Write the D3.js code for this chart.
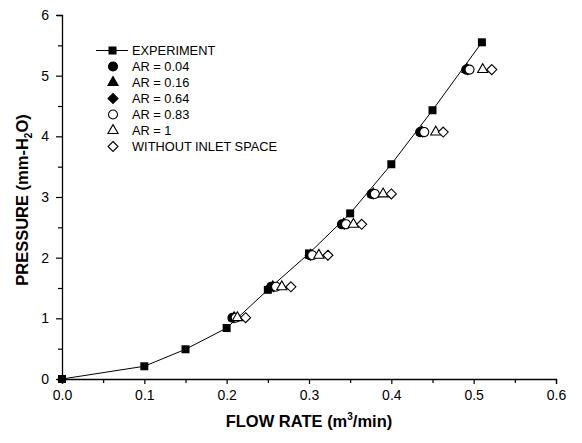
<!DOCTYPE html>
<html>
<head>
<meta charset="utf-8">
<script src="https://cdn.jsdelivr.net/npm/d3@7"></script>
<style>
body { margin: 0; background: #fff; }
text { font-family: "Liberation Sans", Arial, sans-serif; }
</style>
</head>
<body>
<script>
const width = 582;
const height = 443;

// experiment (line + squares)
const expFlow = [0, 0.1, 0.15, 0.2, 0.25, 0.3, 0.35, 0.4, 0.45, 0.51];
const expPressure = [0, 0.21, 0.49, 0.84, 1.47, 2.07, 2.73, 3.54, 4.43, 5.55];

// simulation levels (shared pressure values)
const simPressure = [1.01, 1.52, 2.04, 2.55, 3.05, 4.07, 5.10];
const flowAR004 = [0.207, 0.254, 0.301, 0.340, 0.376, 0.435, 0.491];
const flowAR016 = [0.209, 0.256, 0.302, 0.342, 0.378, 0.437, 0.492];
const flowAR064 = [0.209, 0.257, 0.302, 0.343, 0.378, 0.438, 0.493];
const flowAR083 = [0.211, 0.260, 0.304, 0.345, 0.380, 0.440, 0.495];
const flowAR1 = [0.213, 0.267, 0.312, 0.354, 0.390, 0.454, 0.511];
const flowNoInlet = [0.223, 0.278, 0.323, 0.364, 0.400, 0.463, 0.522];

const xTicks = [0, 0.1, 0.2, 0.3, 0.4, 0.5, 0.6];
const yTicks = [0, 1, 2, 3, 4, 5, 6];

// rotated square for the diamond markers
const diamond = {
    draw(ctx, size) {
        const r = Math.sqrt(size / 2);
        ctx.moveTo(0, -r);
        ctx.lineTo(r, 0);
        ctx.lineTo(0, r);
        ctx.lineTo(-r, 0);
        ctx.closePath();
    }
};

const series = [
    {name: "AR = 0.04", flow: flowAR004, type: d3.symbolCircle, fill: "#000", size: 64},
    {name: "AR = 0.16", flow: flowAR016, type: d3.symbolTriangle, fill: "#000", size: 45},
    {name: "AR = 0.64", flow: flowAR064, type: diamond, fill: "#000", size: 50},
    {name: "AR = 0.83", flow: flowAR083, type: d3.symbolCircle, fill: "#fff", size: 64},
    {name: "AR = 1", flow: flowAR1, type: d3.symbolTriangle, fill: "#fff", size: 45},
    {name: "WITHOUT INLET SPACE", flow: flowNoInlet, type: diamond, fill: "#fff", size: 50}
];

const svg = d3.select("body").append("svg")
    .attr("width", width)
    .attr("height", height);

const x = d3.scaleLinear().domain([0, 0.6]).range([62, 556]);
const y = d3.scaleLinear().domain([0, 6]).range([379, 15]);

// axes
const xAxis = d3.axisBottom(x)
    .tickValues(d3.range(0, 0.6001, 0.05))
    .tickSize(5)
    .tickFormat(d => xTicks.some(t => Math.abs(t - d) < 1e-6) ? d3.format(".1f")(d) : "");
const gx = svg.append("g").attr("transform", `translate(0,${y(0)})`).call(xAxis);

const yAxis = d3.axisLeft(y)
    .tickValues(d3.range(0, 6.001, 0.5))
    .tickSize(5)
    .tickPadding(8)
    .tickFormat(d => yTicks.includes(d) ? d : "");
const gy = svg.append("g").attr("transform", `translate(${x(0)},0)`).call(yAxis);

[gx, gy].forEach(g => {
    g.select(".domain").attr("stroke", "#000").attr("stroke-width", 1.3);
    g.selectAll(".tick line").attr("stroke", "#000").attr("stroke-width", 1.2);
    g.selectAll(".tick text").attr("font-size", 14).attr("fill", "#000")
        .attr("font-family", "Liberation Sans, Arial, sans-serif");
});
gx.selectAll(".tick text").attr("dy", "0.95em");
gx.selectAll(".tick line").attr("y2", d => xTicks.some(t => Math.abs(t - d) < 1e-6) ? 5 : 4);
gy.selectAll(".tick line").attr("x2", d => yTicks.includes(d) ? -6 : -4);

// axis titles
const xt = svg.append("text")
    .attr("x", (x(0) + x(0.6)) / 2).attr("y", 427)
    .attr("text-anchor", "middle")
    .attr("font-size", 16.5).attr("font-weight", "bold");
xt.append("tspan").text("FLOW RATE (m");
xt.append("tspan").attr("font-size", 10).attr("dy", -7).text("3");
xt.append("tspan").attr("dy", 7).text("/min)");

const yt = svg.append("text")
    .attr("transform", `translate(28,${(y(0) + y(6)) / 2 + 3}) rotate(-90)`)
    .attr("text-anchor", "middle")
    .attr("font-size", 16.5).attr("font-weight", "bold");
yt.append("tspan").text("PRESSURE (mm-H");
yt.append("tspan").attr("font-size", 10).attr("dy", 4).text("2");
yt.append("tspan").attr("dy", -4).text("O)");

// experiment line + squares
const expData = expFlow.map((f, i) => ({f, p: expPressure[i]}));
svg.append("path")
    .datum(expData)
    .attr("fill", "none")
    .attr("stroke", "#000")
    .attr("stroke-width", 1)
    .attr("d", d3.line().x(d => x(d.f)).y(d => y(d.p)));

svg.selectAll(".sq")
    .data(expData)
    .enter().append("rect")
    .attr("x", d => x(d.f) - 4)
    .attr("y", d => y(d.p) - 4)
    .attr("width", 8)
    .attr("height", 8)
    .attr("fill", "#000");

// simulation markers
series.forEach(s => {
    svg.selectAll(null)
        .data(s.flow.map((f, i) => ({f, p: simPressure[i]})))
        .enter().append("path")
        .attr("d", d3.symbol().type(s.type).size(s.size))
        .attr("transform", d => `translate(${x(d.f)},${y(d.p)})`)
        .attr("fill", s.fill)
        .attr("stroke", "#000")
        .attr("stroke-width", 1.1);
});

// legend
const lg = svg.append("g");
const rowY = i => 50.5 + i * 16;
lg.append("line").attr("x1", 96).attr("x2", 128).attr("y1", rowY(0)).attr("y2", rowY(0))
    .attr("stroke", "#000");
lg.append("rect").attr("x", 108.5).attr("y", rowY(0) - 4).attr("width", 8).attr("height", 8).attr("fill", "#000");
lg.append("text").attr("x", 132).attr("y", rowY(0)).attr("dy", "0.36em").attr("font-size", 12.8).text("EXPERIMENT");

series.forEach((s, i) => {
    lg.append("path")
        .attr("d", d3.symbol().type(s.type).size(s.size))
        .attr("transform", `translate(113,${rowY(i + 1)})`)
        .attr("fill", s.fill)
        .attr("stroke", "#000")
        .attr("stroke-width", 1.1);
    lg.append("text").attr("x", 132).attr("y", rowY(i + 1)).attr("dy", "0.36em")
        .attr("font-size", 12.8).text(s.name);
});
</script>
</body>
</html>
